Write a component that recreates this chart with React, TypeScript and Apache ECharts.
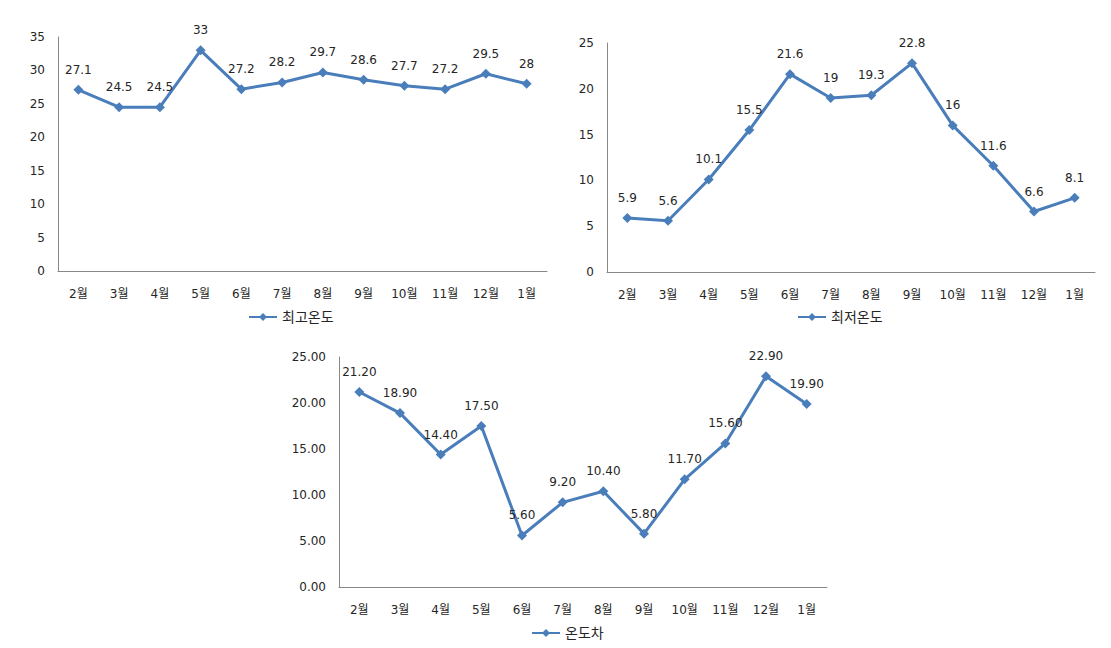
import React, { useEffect, useRef } from "react";
import * as echarts from "echarts";

const months = ["2월", "3월", "4월", "5월", "6월", "7월", "8월", "9월", "10월", "11월", "12월", "1월"];
const maxTemp = [27.1, 24.5, 24.5, 33, 27.2, 28.2, 29.7, 28.6, 27.7, 27.2, 29.5, 28];
const minTemp = [5.9, 5.6, 10.1, 15.5, 21.6, 19, 19.3, 22.8, 16, 11.6, 6.6, 8.1];
const diffTemp = [21.2, 18.9, 14.4, 17.5, 5.6, 9.2, 10.4, 5.8, 11.7, 15.6, 22.9, 19.9];
const seriesNames = ["최고온도", "최저온도", "온도차"];

const FONT = "'DejaVu Sans', 'Noto Sans CJK KR', sans-serif";
const BLUE = "#4A7EBB";
const TEXT = "#262626";

export default function App() {
  const ref = useRef<HTMLDivElement>(null);
  useEffect(() => {
    if (!ref.current) return;
    const chart = echarts.init(ref.current, null, { renderer: "svg" });
    const grids = [
      { left: 58, top: 37, width: 489, height: 234 },
      { left: 607, top: 43, width: 488, height: 229 },
      { left: 339, top: 357, width: 488, height: 230 },
    ];
    const maxes = [35, 25, 25];
    const decimals = [0, 0, 2];
    const datas = [maxTemp, minTemp, diffTemp];
    const legendPos = [
      { left: 243, top: 305 },
      { left: 792, top: 305 },
      { left: 526, top: 621 },
    ];
    const axisTextStyle = { color: TEXT, fontFamily: FONT, fontSize: 12 };
    const option: any = {
      animation: false,
      textStyle: { fontFamily: FONT },
      grid: grids.map((g) => ({ ...g, containLabel: false })),
      xAxis: grids.map((_, i) => ({
        type: "category",
        gridIndex: i,
        data: months,
        boundaryGap: true,
        axisLine: { show: true, lineStyle: { color: "#888888", width: 1 } },
        axisTick: { show: false },
        axisLabel: { ...axisTextStyle, margin: 17, interval: 0 },
        splitLine: { show: false },
      })),
      yAxis: grids.map((_, i) => ({
        type: "value",
        gridIndex: i,
        min: 0,
        max: maxes[i],
        interval: 5,
        axisLine: { show: true, lineStyle: { color: "#888888", width: 1 } },
        axisTick: { show: false },
        splitLine: { show: false },
        axisLabel: {
          ...axisTextStyle,
          margin: 13,
          formatter: (v: number) => v.toFixed(decimals[i]),
        },
      })),
      legend: seriesNames.map((name, i) => ({
        data: [name],
        left: legendPos[i].left,
        top: legendPos[i].top,
        itemWidth: 28,
        itemHeight: 10,
        itemGap: 4,
        textStyle: { color: TEXT, fontFamily: FONT, fontSize: 14 },
      })),
      series: seriesNames.map((name, i) => ({
        name,
        type: "line",
        xAxisIndex: i,
        yAxisIndex: i,
        data: datas[i],
        symbol: "diamond",
        symbolSize: 10,
        lineStyle: { color: BLUE, width: 3 },
        itemStyle: { color: BLUE },
        label: {
          show: true,
          position: "top",
          distance: 9,
          color: TEXT,
          fontFamily: FONT,
          fontSize: 12,
          formatter: (p: any) => (decimals[i] ? Number(p.value).toFixed(2) : String(p.value)),
        },
      })),
    };
    chart.setOption(option);
    return () => chart.dispose();
  }, []);
  return (
    <div
      ref={ref}
      style={{ position: "fixed", left: 0, top: 0, width: 1111, height: 648, background: "#ffffff" }}
    />
  );
}
